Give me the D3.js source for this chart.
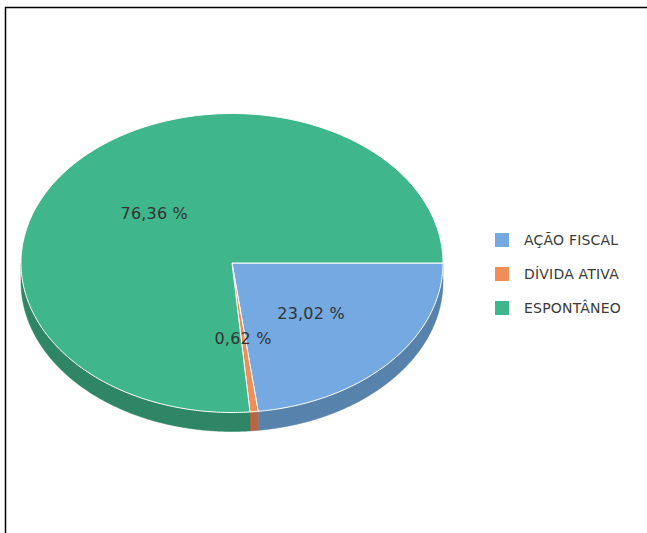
<!DOCTYPE html>
<html>
<head>
<meta charset="utf-8">
<script src="https://cdn.jsdelivr.net/npm/d3@7"></script>
<style>
  html, body { margin: 0; padding: 0; background: #fff; }
  svg { display: block; }
</style>
</head>
<body>
<svg id="chart" width="647" height="533"></svg>
<script>
// Share of collection by origin
const categories = ["AÇÃO FISCAL", "DÍVIDA ATIVA", "ESPONTÂNEO"];
const shares = [23.02, 0.62, 76.36];
const topColors = ["#74a9e1", "#f18d58", "#40b68c"];
const sideColors = ["#5782ab", "#b9653f", "#2e8666"];

const svg = d3.select("#chart");
const W = 647, H = 533;

// frame
svg.append("path")
  .attr("d", `M5.5,${H} V7.5 H${W}`)
  .attr("fill", "none")
  .attr("stroke", "#000")
  .attr("stroke-width", 1.5);

const cx = 232, cy = 263, rx = 211, ry = 149.5, depth = 19;

// d3 angles: 0 at 12 o'clock, clockwise; start slices at 3 o'clock
const pie = d3.pie().sort(null).value(d => d)
  .startAngle(Math.PI / 2).endAngle(Math.PI / 2 + 2 * Math.PI);
const arcs = pie(shares);

// screen angle measured clockwise from 3 o'clock
const toTheta = a => a - Math.PI / 2;
const pt = (t, dy = 0) => [cx + rx * Math.cos(t), cy + ry * Math.sin(t) + dy];

function arcPoints(t0, t1, dy = 0) {
  const n = Math.max(2, Math.ceil(Math.abs(t1 - t0) / 0.01));
  return d3.range(n + 1).map(i => pt(t0 + (t1 - t0) * i / n, dy));
}

const line = d3.line();

// side walls (front half only: theta in [0, PI] modulo 2PI)
const sides = svg.append("g");
arcs.forEach((a, i) => {
  const t0 = toTheta(a.startAngle), t1 = toTheta(a.endAngle);
  [[0, Math.PI], [2 * Math.PI, 3 * Math.PI]].forEach(([w0, w1]) => {
    const s = Math.max(t0, w0), e = Math.min(t1, w1);
    if (e > s) {
      const topPts = arcPoints(s, e);
      const botPts = arcPoints(e, s, depth);
      sides.append("path")
        .attr("d", line(topPts.concat(botPts)) + "Z")
        .attr("fill", sideColors[i])
        .attr("stroke", sideColors[i])
        .attr("stroke-width", 0.5);
    }
  });
});

// top surfaces
const tops = svg.append("g");
arcs.forEach((a, i) => {
  const t0 = toTheta(a.startAngle), t1 = toTheta(a.endAngle);
  const pts = [[cx, cy]].concat(arcPoints(t0, t1));
  tops.append("path")
    .attr("d", line(pts) + "Z")
    .attr("fill", topColors[i])
    .attr("stroke", "#ffffff")
    .attr("stroke-width", 1)
    .attr("stroke-linejoin", "round");
});

// data labels, halfway between centre and rim
const fmt = v => v.toFixed(2).replace(".", ",") + " %";
const mid = d => pt((toTheta(d.startAngle) + toTheta(d.endAngle)) / 2);
svg.append("g").selectAll("text")
  .data(arcs)
  .join("text")
  .attr("x", d => (mid(d)[0] + cx) / 2)
  .attr("y", d => (mid(d)[1] + cy) / 2 + 1)
  .attr("text-anchor", "middle")
  .attr("dominant-baseline", "central")
  .attr("font-family", "DejaVu Sans, sans-serif")
  .attr("font-size", 16)
  .attr("letter-spacing", 0.2)
  .attr("fill", "#333333")
  .text(d => fmt(d.data));

// legend
const legend = svg.append("g").attr("transform", "translate(495,233)");
const item = legend.selectAll("g")
  .data(categories)
  .join("g")
  .attr("transform", (d, i) => `translate(0,${i * 34})`);
item.append("rect")
  .attr("width", 14).attr("height", 14)
  .attr("fill", (d, i) => topColors[i]);
item.append("text")
  .attr("x", 29).attr("y", 7)
  .attr("dominant-baseline", "central")
  .attr("font-family", "DejaVu Sans, sans-serif")
  .attr("font-size", 14)
  .attr("letter-spacing", 0.2)
  .attr("fill", "#3a3a3a")
  .text(d => d);
</script>
</body>
</html>
